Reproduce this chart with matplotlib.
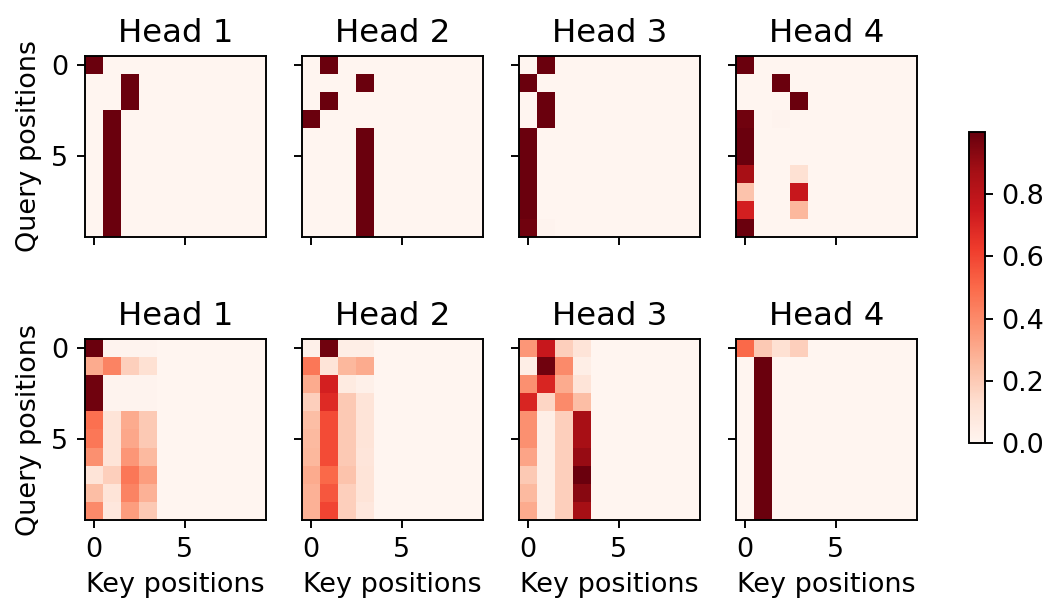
import matplotlib
import numpy as np

matplotlib.use("Agg")

import matplotlib.pyplot as plt


# 注意力权重：上排与下排各 4 个头，每个 10x10（query x key）
# 只记录非零的前 4 列，其余列为 0
top_head1 = [
    [0.99, 0.0, 0.0, 0.0],
    [0.0, 0.0, 0.99, 0.0],
    [0.0, 0.0, 0.99, 0.0],
    [0.0, 0.99, 0.0, 0.0],
    [0.0, 0.99, 0.0, 0.0],
    [0.0, 0.99, 0.0, 0.0],
    [0.0, 0.99, 0.0, 0.0],
    [0.0, 0.99, 0.0, 0.0],
    [0.0, 0.99, 0.0, 0.0],
    [0.0, 0.99, 0.0, 0.0],
]
top_head2 = [
    [0.0, 0.99, 0.0, 0.0],
    [0.0, 0.0, 0.0, 0.99],
    [0.0, 0.99, 0.0, 0.0],
    [0.99, 0.0, 0.0, 0.0],
    [0.0, 0.0, 0.0, 0.99],
    [0.0, 0.0, 0.0, 0.99],
    [0.0, 0.0, 0.0, 0.99],
    [0.0, 0.0, 0.0, 0.99],
    [0.0, 0.0, 0.0, 0.99],
    [0.0, 0.0, 0.0, 0.99],
]
top_head3 = [
    [0.0, 0.99, 0.0, 0.0],
    [0.99, 0.0, 0.0, 0.0],
    [0.0, 0.99, 0.0, 0.0],
    [0.0, 0.99, 0.0, 0.0],
    [0.99, 0.0, 0.0, 0.0],
    [0.99, 0.0, 0.0, 0.0],
    [0.99, 0.0, 0.0, 0.0],
    [0.99, 0.0, 0.0, 0.0],
    [0.99, 0.0, 0.0, 0.0],
    [0.98, 0.01, 0.0, 0.0],
]
top_head4 = [
    [0.99, 0.0, 0.0, 0.0],
    [0.0, 0.0, 0.99, 0.0],
    [0.0, 0.0, 0.0, 0.99],
    [0.98, 0.0, 0.01, 0.0],
    [0.99, 0.0, 0.0, 0.0],
    [0.99, 0.0, 0.0, 0.0],
    [0.86, 0.0, 0.0, 0.12],
    [0.22, 0.0, 0.0, 0.76],
    [0.72, 0.0, 0.0, 0.26],
    [0.99, 0.0, 0.0, 0.0],
]
bottom_head1 = [
    [0.99, 0.01, 0.01, 0.01],
    [0.30, 0.42, 0.18, 0.12],
    [0.98, 0.01, 0.01, 0.01],
    [0.98, 0.01, 0.01, 0.01],
    [0.48, 0.10, 0.30, 0.20],
    [0.46, 0.10, 0.31, 0.20],
    [0.38, 0.10, 0.36, 0.25],
    [0.10, 0.18, 0.46, 0.34],
    [0.24, 0.10, 0.42, 0.28],
    [0.40, 0.08, 0.34, 0.20],
]
bottom_head2 = [
    [0.03, 0.98, 0.04, 0.04],
    [0.46, 0.10, 0.26, 0.30],
    [0.30, 0.72, 0.06, 0.03],
    [0.18, 0.68, 0.20, 0.10],
    [0.24, 0.58, 0.20, 0.10],
    [0.25, 0.58, 0.20, 0.10],
    [0.26, 0.58, 0.20, 0.09],
    [0.30, 0.50, 0.22, 0.10],
    [0.28, 0.55, 0.18, 0.10],
    [0.28, 0.60, 0.18, 0.08],
]
bottom_head3 = [
    [0.36, 0.76, 0.18, 0.10],
    [0.04, 0.98, 0.40, 0.04],
    [0.38, 0.70, 0.30, 0.10],
    [0.70, 0.16, 0.40, 0.24],
    [0.38, 0.04, 0.18, 0.86],
    [0.38, 0.04, 0.18, 0.86],
    [0.32, 0.04, 0.18, 0.90],
    [0.20, 0.04, 0.18, 0.99],
    [0.25, 0.04, 0.18, 0.93],
    [0.30, 0.04, 0.18, 0.87],
]
bottom_head4 = [
    [0.50, 0.20, 0.12, 0.18],
    [0.0, 0.99, 0.0, 0.0],
    [0.0, 0.99, 0.0, 0.0],
    [0.0, 0.99, 0.0, 0.0],
    [0.0, 0.99, 0.0, 0.0],
    [0.0, 0.99, 0.0, 0.0],
    [0.0, 0.99, 0.0, 0.0],
    [0.0, 0.99, 0.0, 0.0],
    [0.0, 0.99, 0.0, 0.0],
    [0.0, 0.99, 0.0, 0.0],
]
titles = ["Head 1", "Head 2", "Head 3", "Head 4"]
n_keys = 10


def full_matrix(cols):
    m = np.zeros((len(cols), n_keys))
    m[:, :4] = np.asarray(cols, dtype=float)
    return m


def main():
    plt.rcParams["font.size"] = 11.3
    W, H, dpi = 1047, 600, 172
    fig = plt.figure(figsize=(W / dpi, H / dpi), dpi=dpi)

    rows = [
        [top_head1, top_head2, top_head3, top_head4],
        [bottom_head1, bottom_head2, bottom_head3, bottom_head4],
    ]
    lefts = [85, 302, 519, 736]
    tops = [56, 339]
    size = 181

    pcm = None
    for i, row in enumerate(rows):
        for j, data in enumerate(row):
            ax = fig.add_axes([lefts[j] / W, 1 - (tops[i] + size) / H, size / W, size / H])
            pcm = ax.imshow(full_matrix(data), cmap="Reds", vmin=0, vmax=1.0)
            ax.set_title(titles[j])
            ax.set_xticks([0, 5])
            ax.set_yticks([0, 5])
            if i == 0:
                ax.set_xticklabels([])
            else:
                ax.set_xlabel("Key positions")
            if j == 0:
                ax.set_ylabel("Query positions")
            else:
                ax.set_yticklabels([])

    cax = fig.add_axes([969 / W, 1 - 443 / H, 16 / W, 311 / H])
    fig.colorbar(pcm, cax=cax, ticks=[0.0, 0.2, 0.4, 0.6, 0.8])

    fig.savefig("out.png", dpi=dpi)
    plt.close(fig)


if __name__ == "__main__":
    main()
